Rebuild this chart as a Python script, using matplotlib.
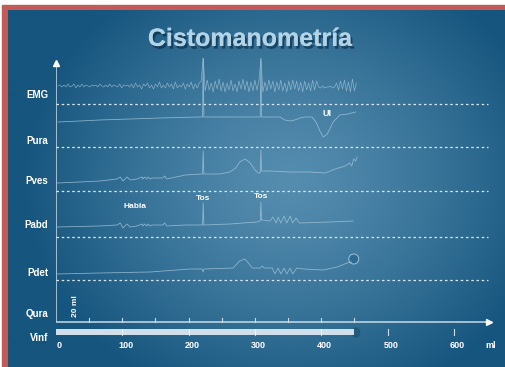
import numpy as np
import matplotlib
matplotlib.use("Agg")
import matplotlib.pyplot as plt
from matplotlib import patheffects as pe
from matplotlib.patches import Rectangle, Ellipse

plt.rcParams['font.family'] = ['Liberation Sans', 'DejaVu Sans']

# schematic cystometry: x = infused volume (ml), y = height above each channel baseline
channels = ["EMG", "Pura", "Pves", "Pabd", "Pdet", "Qura", "Vinf"]
x_ticks = [0, 100, 200, 300, 400, 500, 600]
vinf_ml = 450

emg_start, emg_step = 3, 3
emg = [0, 1, -1, 1, -1, 2, -1, 0, 2, -2, 1, -1, 2, -1, 1, 0, -1, 1, 0, 1,
       -1, 2, 0, -1, 1, -1, 2, -1, 1, 0, -1, 2, -2, 1, 0, 1, -1,
       2, -2, 3, -1, 1, -3, 2, 0, 3, -2, 1, -3, 2, -1, 4, -2, 1, -2, 3, -1,
       2, -3, 4, -2, 1, -1, 3, -3, 2, -1, 4, -3, 2, -2, 3,
       5, 29, -5, 6, -4, 3, -6, 5, -3, 7, -5, 4, -6, 3, -4, 6, -5, 2, -6, 5,
       -3, 7, -4, 5, -6, 4, -5, 6,
       -4, 5, 27, -6, 4, -5, 6, -3, 5, -6, 4, -4, 6, -5, 3, -6, 5, -4, 6, -3,
       5, -5, 4, -6, 5, -4, 3, -5, 6, -4, 5,
       -1, -2, 0, -2, -1, -1, 0, -2, -1,
       3, -4, 5, -3, 6, -5, 4, -6, 7, -5, 3]

pura_ml = [3, 36, 66, 112, 157, 217, 221, 222, 223, 262, 308, 309, 310, 323, 338,
           345, 353, 360, 368, 376, 386, 392, 398, 403, 409, 418, 428, 440, 452]
pura = [0, 1, 2, 3, 4, 5, 5, 65, 5, 5, 5, 65, 5, 5, 5,
        2, 1, 2, 4, 5, 5, 0, -9, -15, -12, 0, 7, 8, 10]

pves_ml = [2, 36, 66, 92, 97, 101, 107, 112, 122, 130, 131, 134, 137, 139, 142, 145,
           161, 164, 167, 195, 221, 222, 223, 247, 262, 271, 277, 285, 293, 300, 305,
           308, 309, 310, 323, 353, 383, 406, 421, 436, 443, 446, 449, 452, 454]
pves = [0, 1, 2, 4, 6, 2, 6, 3, 4, 6, 4, 6, 4, 6, 4, 5,
        5, 7, 4, 8, 9, 32, 9, 9, 11, 15, 21, 24, 20, 13, 10,
        10, 33, 12, 12, 11, 11, 10, 14, 17, 20, 17, 24, 22, 26]

pabd_ml = [2, 66, 92, 97, 101, 107, 112, 122, 130, 131, 134, 137, 139, 142, 145,
           161, 164, 167, 195, 221, 222, 223, 262, 303, 308, 309, 310, 323, 327, 332,
           335, 339, 344, 348, 353, 357, 362, 367, 413, 448]
pabd = [0, 1, 2, 4, -1, 3, 0, 1, 3, 1, 3, 1, 3, 1, 2,
        2, 4, 1, 2, 2, 24, 2, 3, 5, 6, 25, 7, 6, 10, 4,
        10, 4, 11, 4, 11, 4, 9, 4, 5, 6]

pdet_ml = [2, 66, 142, 202, 220, 222, 223, 267, 277, 285, 290, 296, 308, 311, 314,
           326, 330, 335, 339, 344, 348, 353, 357, 363, 373, 403, 424, 439, 446]
pdet = [1, 2, 3, 6, 6, 3, 6, 7, 14, 16, 12, 7, 7, 9, 7,
        7, 1, 7, 1, 7, 1, 7, 1, 7, 6, 5, 8, 12, 13]

# layout (1 y-unit = 1 pixel)
base = {"EMG": 236, "Pura": 200, "Pves": 139, "Pabd": 95, "Pdet": 47}
label_y = [227, 181, 141, 97, 49, 8, -16]
separators = [218, 175, 131, 85, 42]

fig = plt.figure(figsize=(5.05, 3.67), dpi=100)
fig.patch.set_facecolor("white")

# background panel
bg = fig.add_axes([0, 0, 1, 1])
bg.set_xlim(0, 505)
bg.set_ylim(367, 0)
bg.axis("off")
yy, xx = np.mgrid[0:367, 0:505]
d = np.sqrt(((xx - 285) / 270.0) ** 2 + ((yy - 175) / 240.0) ** 2)
t = np.clip(d, 0, 1) ** 1.3
light = np.array([0x55, 0x8d, 0xaf]) / 255
dark = np.array([0x16, 0x55, 0x7e]) / 255
img = light[None, None, :] * (1 - t[..., None]) + dark[None, None, :] * t[..., None]
bg.add_patch(Rectangle((2, 5), 503, 362, color="#c25a58", zorder=0))
bg.imshow(img, extent=(8, 505, 367, 10), aspect="auto", zorder=1)

fig.text(0.495, 0.875, "Cistomanometría", ha="center", va="baseline",
         fontsize=18, fontweight="bold", color="#b3d3e6",
         path_effects=[pe.withSimplePatchShadow(offset=(1.5, -2), shadow_rgbFace="#0b2f4a", alpha=0.7),
                       pe.Normal()])

ax = fig.add_axes([56 / 505, 15 / 367, 437 / 505, 294 / 367])
ax.set_xlim(0, 659)
ax.set_ylim(-30, 264)
ax.axis("off")

axis_col = "#c9dce9"
trace_col = "#a8c8dc"
ax.plot([0, 0], [0, 258], color=axis_col, lw=1.1, solid_capstyle="butt")
ax.plot([0, 650], [0, 0], color=axis_col, lw=1.1, solid_capstyle="butt")
ax.plot([0], [259], marker="^", ms=5, color="white", clip_on=False)
ax.plot([653], [0], marker=">", ms=5, color="white", clip_on=False)

for v in range(50, 451, 50):
    ax.plot([v, v], [0, 4], color=axis_col, lw=0.8)

for y in separators:
    ax.plot([0, 651], [y, y], color="#dbe8f0", lw=0.9, dashes=(2, 2.2))

# traces
emg_x = emg_start + emg_step * np.arange(len(emg))
ax.plot(emg_x, base["EMG"] + np.array(emg), color="#c3d9e7", lw=0.5, alpha=0.6)
ax.plot(pura_ml, base["Pura"] + np.array(pura), color=trace_col, lw=0.6, alpha=0.75)
ax.plot(pves_ml, base["Pves"] + np.array(pves), color=trace_col, lw=0.6, alpha=0.75)
ax.plot(pabd_ml, base["Pabd"] + np.array(pabd), color=trace_col, lw=0.6, alpha=0.75)
ax.plot(pdet_ml, base["Pdet"] + np.array(pdet), color=trace_col, lw=0.6, alpha=0.75)
ax.add_patch(Ellipse((pdet_ml[-1] + 3, base["Pdet"] + 16), 15, 10, facecolor="#2b6990",
                     edgecolor="#9fc1d6", lw=0.8, alpha=0.9))

# infused volume bar
ax.add_patch(Ellipse((vinf_ml + 2, -10.5), 12, 9, color="#1c5478", alpha=0.7))
ax.add_patch(Rectangle((0, -13), vinf_ml, 6, facecolor="#cfe0ec", edgecolor="none"))
for v in x_ticks[1:]:
    if v < vinf_ml:
        ax.plot([v, v], [-13, -7], color="white", lw=0.8, alpha=0.7)
    else:
        ax.plot([v, v], [-13, -7], color=axis_col, lw=0.8)

txt = dict(color="white", fontweight="bold", clip_on=False)
for name, y in zip(channels, label_y):
    ax.text(-12, y, name, ha="right", va="center", fontsize=7, **txt)
for v in x_ticks:
    ax.text(v + 5, -23, str(v), ha="center", va="center", fontsize=6.5, **txt)
ax.text(656, -23, "ml", ha="center", va="center", fontsize=6.5, **txt)
ax.text(29, 16, "20 ml", ha="center", va="center", rotation=90, fontsize=6, **txt)
ax.text(119, 115, "Habla", ha="center", va="center", fontsize=6, **txt)
ax.text(222, 123, "Tos", ha="center", va="center", fontsize=6, **txt)
ax.text(309, 125, "Tos", ha="center", va="center", fontsize=6, **txt)
ax.text(409, 209, "UI", ha="center", va="center", fontsize=6.5, **txt)

fig.savefig("out.png", dpi=100)
